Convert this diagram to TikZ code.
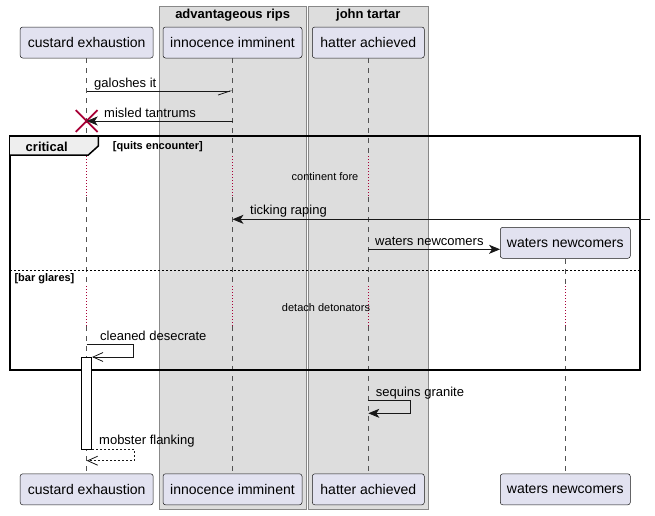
\documentclass[tikz,border=0pt]{standalone}
\usepackage{fontspec}
\setmainfont{Liberation Sans}
\usetikzlibrary{arrows.meta,shapes.misc}
\definecolor{partfill}{HTML}{E2E2F0}
\definecolor{partline}{HTML}{181818}
\definecolor{boxfill}{HTML}{DDDDDD}
\definecolor{boxline}{HTML}{888888}
\definecolor{delayred}{HTML}{A80036}
\definecolor{tabfill}{HTML}{EEEEEE}
\tikzset{
 part/.style={draw=partline, fill=partfill, rounded corners=2.5pt, line width=0.5pt, minimum height=31pt, inner sep=0pt, font=\fontsize{14}{16}\selectfont},
 grpbox/.style={draw=boxline, fill=boxfill, line width=0.8pt},
 grptitle/.style={font=\bfseries\fontsize{13}{15}\selectfont, inner sep=0pt},
 lifeline/.style={draw=partline!75, line width=0.5pt, dash pattern=on 5pt off 5pt},
 delayline/.style={draw=delayred, line width=0.9pt, dash pattern=on 0.9pt off 2.1pt},
 msg/.style={draw=partline, line width=0.8pt},
 msglabel/.style={anchor=base west, inner sep=0pt, font=\fontsize{13}{15}\selectfont},
 filledtip/.style={-{Stealth[length=11pt,width=9pt,inset=3pt]}},
 opentip/.style={-{Straight Barb[length=10pt,width=9pt]}},
 halftip/.style={-{Straight Barb[right,length=12pt,width=8pt]}},
 smalltext/.style={inner sep=0pt, font=\fontsize{11}{13}\selectfont},
 smallbold/.style={inner sep=0pt, font=\bfseries\fontsize{11}{13}\selectfont},
 framebox/.style={draw=black, line width=1.5pt},
 destroy/.style={cross out, draw=delayred, line width=1.8pt, minimum size=20pt, inner sep=0pt},
 actbar/.style={draw=black, fill=white, line width=0.8pt, minimum width=10.2pt, inner sep=0pt, anchor=north},
}
\begin{document}
\begin{tikzpicture}[x=1pt,y=-1pt]
\useasboundingbox (0,0) rectangle (655,515);
% group boxes
\draw[grpbox] (159,6) rectangle (306.5,509.5);
\draw[grpbox] (308.3,6) rectangle (428.3,509.5);
\node[grptitle] (g1) at (232.7,15.5) {advantageous rips};
\node[grptitle] (g2) at (368.3,15.5) {john tartar};
% row coordinates
\coordinate (r1) at (0,91);
\coordinate (r2) at (0,121);
\coordinate (d1a) at (0,156);
\coordinate (d1b) at (0,197);
\coordinate (r4) at (0,249.3);
\coordinate (d2a) at (0,286);
\coordinate (d2b) at (0,326);
\coordinate (r6) at (0,344);
\coordinate (r7) at (0,400.7);
\coordinate (r7b) at (0,413.3);
\coordinate (r8b) at (0,460.7);
% participants
\node[part, minimum width=133pt] (ce) at (86.7,42.5) {custard exhaustion};
\node[part, minimum width=139pt] (ii) at (232.5,42.5) {innocence imminent};
\node[part, minimum width=112pt] (ha) at (368.3,42.5) {hatter achieved};
\node[part, minimum width=133pt] (ceb) at (86.7,489.3) {custard exhaustion};
\node[part, minimum width=139pt] (iib) at (232.5,489.3) {innocence imminent};
\node[part, minimum width=112pt] (hab) at (368.3,489.3) {hatter achieved};
\node[part, minimum width=130pt] (wnb) at (565.3,489.3) {waters newcomers};
\node[part, minimum width=130pt] (wn) at (565.3,242.8) {waters newcomers};
% lifelines
\foreach \p/\q in {ce/ceb, ii/iib, ha/hab} {
  \draw[lifeline] (\p.south) -- (\p |- d1a);
  \draw[delayline] (\p |- d1a) -- (\p |- d1b);
  \draw[lifeline] (\p |- d1b) -- (\p |- d2a);
  \draw[delayline] (\p |- d2a) -- (\p |- d2b);
  \draw[lifeline] (\p |- d2b) -- (\q.north);
}
\draw[lifeline] (wn.south) -- (wn |- d2a);
\draw[delayline] (wn |- d2a) -- (wn |- d2b);
\draw[lifeline] (wn |- d2b) -- (wnb.north);
% critical frame
\draw[framebox] (10,136) rectangle (640,370);
\draw[framebox, fill=tabfill] (10,136) -- (98.3,136) -- (98.3,146) -- (88.3,155) -- (10,155);
\node[grptitle] (crit) at (46.7,146.5) {critical};
\node[smallbold, anchor=west] (cond1) at (112.7,146.2) {[quits encounter]};
\draw[draw=black, line width=0.8pt, dash pattern=on 2pt off 2pt] (10,270) -- (640,270);
\node[smallbold, anchor=west] (cond2) at (14.3,278.8) {[bar glares]};
% delays
\node[smalltext] (dl1) at (325,176.8) {continent fore};
\node[smalltext] (dl2) at (326,307.8) {detach detonators};
% activation
\node[actbar, minimum height=92.3pt] (act) at (86.6,357) {};
% messages
\draw[msg, halftip] (ce |- r1) -- (ii |- r1);
\node[msglabel] (l1) at (94,87) {galoshes it};
\node[destroy] (x1) at (ce |- r2) {};
\draw[msg, filledtip] (ii |- r2) -- (ce |- r2);
\node[msglabel] (l2) at (104,117) {misled tantrums};
\coordinate (tstart) at (650,219.3);
\draw[msg, filledtip] (tstart) -- (ii |- tstart);
\node[msglabel] (l3) at (250,214.8) {ticking raping};
\draw[msg, filledtip] (ha |- r4) -- (wn.west |- r4);
\node[msglabel] (l4) at (375,245.5) {waters newcomers};
\draw[msg, opentip] (ce |- r6) -- ++(47,0) |- (act.north east);
\node[msglabel] (l5) at (100,340.8) {cleaned desecrate};
\draw[msg, filledtip] (ha |- r7) -- ++(42,0) |- (ha |- r7b);
\node[msglabel] (l6) at (375.7,396.8) {sequins granite};
\draw[msg, opentip, dash pattern=on 2pt off 2pt] (act.south east) ++(0,-1) -- ++(42,0) |- (ce |- r8b);
\node[msglabel] (l7) at (99,444.8) {mobster flanking};
\end{tikzpicture}
\end{document}
